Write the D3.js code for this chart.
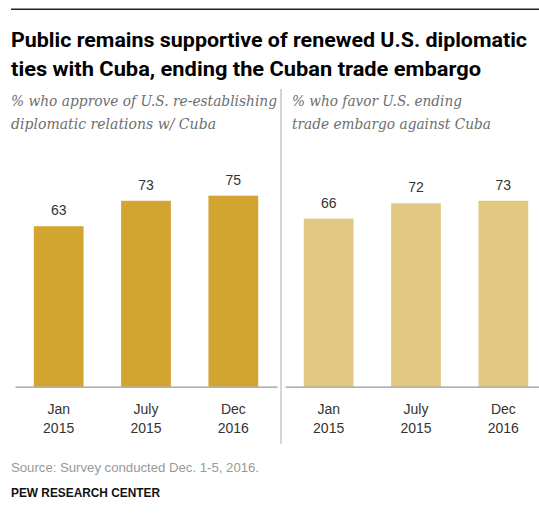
<!DOCTYPE html>
<html>
<head>
<meta charset="utf-8">
<script src="https://cdn.jsdelivr.net/npm/d3@7"></script>
<style>
  body { margin: 0; background: #fff; }
  svg { display: block; }
</style>
</head>
<body>
<div id="chart"></div>
<script>
// data
var periods = ["Jan 2015", "July 2015", "Dec 2016"];
var approveValues = [63, 73, 75];
var embargoValues = [66, 72, 73];
var panelTitles = [
  ["% who approve of U.S. re-establishing", "diplomatic relations w/ Cuba"],
  ["% who favor U.S. ending", "trade embargo against Cuba"]
];

var width = 539, height = 517;

var svg = d3.select("#chart")
  .append("svg")
    .attr("width", width)
    .attr("height", height);

// top rule
svg.append("rect")
  .attr("x", 11).attr("y", 8.5)
  .attr("width", width - 11).attr("height", 1.5)
  .attr("fill", "#222");

// title (condensed by squeezing a regular bold face)
var titleLines = [
  ["Public remains supportive of renewed U.S. diplomatic", 516],
  ["ties with Cuba, ending the Cuban trade embargo", 470]
];
titleLines.forEach(function(t, i) {
  svg.append("text")
    .attr("x", 11).attr("y", 47 + i * 29)
    .attr("textLength", t[1])
    .attr("lengthAdjust", "spacingAndGlyphs")
    .style("font", "bold 21px 'Liberation Sans Narrow', Roboto, sans-serif")
    .style("fill", "#000")
    .text(t[0]);
});

// divider between the two panels
svg.append("line")
  .attr("x1", 281).attr("x2", 281)
  .attr("y1", 89).attr("y2", 444)
  .attr("stroke", "#aaa").attr("stroke-width", 1);

var y = d3.scaleLinear()
  .domain([0, 100])
  .range([386.7, 132]);

var panels = [
  {values: approveValues, color: "#d1a530", left: 15, right: 277, titleX: 11,
   titleW: [266, 205], sub: panelTitles[0]},
  {values: embargoValues, color: "#e2c982", left: 285, right: 547, titleX: 292,
   titleW: [170, 199], sub: panelTitles[1]}
];

panels.forEach(function(p) {
  var g = svg.append("g");

  // subtitle
  p.sub.forEach(function(s, i) {
    g.append("text")
      .attr("x", p.titleX).attr("y", 106 + i * 23)
      .attr("textLength", p.titleW[i])
      .attr("lengthAdjust", "spacingAndGlyphs")
      .style("font", "italic 15px 'DejaVu Serif', 'Liberation Serif', serif")
      .style("fill", "#6e6e6e")
      .text(s);
  });

  var x = d3.scaleBand()
    .domain(periods)
    .range([p.left, p.right])
    .paddingInner(0.43)
    .paddingOuter(0.215);

  var rows = periods.map(function(d, i) { return {period: d, value: p.values[i]}; });

  g.selectAll("rect")
    .data(rows)
    .enter().append("rect")
      .attr("x", function(d) { return x(d.period); })
      .attr("y", function(d) { return y(d.value); })
      .attr("width", x.bandwidth())
      .attr("height", function(d) { return y(0) - y(d.value); })
      .attr("fill", p.color);

  g.selectAll(".val")
    .data(rows)
    .enter().append("text")
      .attr("class", "val")
      .attr("x", function(d) { return x(d.period) + x.bandwidth() / 2; })
      .attr("y", function(d) { return y(d.value) - 11; })
      .attr("text-anchor", "middle")
      .style("font", "14px 'Liberation Sans', Arial, sans-serif")
      .style("fill", "#333")
      .text(function(d) { return d.value; });

  // x axis: baseline plus two-line labels
  var axis = g.append("g")
    .attr("transform", "translate(0," + y(0) + ")")
    .call(d3.axisBottom(x).tickSize(0).tickSizeOuter(0).tickFormat(""));
  axis.select(".domain").attr("stroke", "#999").attr("stroke-width", 1.3);

  axis.selectAll(".tick text").remove();
  axis.selectAll(".tick").each(function(d) {
    var parts = d.split(" ");
    var t = d3.select(this).append("text")
      .attr("text-anchor", "middle")
      .style("font", "14px 'Liberation Sans', Arial, sans-serif")
      .style("fill", "#333");
    t.append("tspan").attr("x", 0).attr("y", 27).text(parts[0]);
    t.append("tspan").attr("x", 0).attr("y", 46).text(parts[1]);
  });
});

// footer
svg.append("text")
  .attr("x", 11).attr("y", 472)
  .attr("textLength", 248)
  .attr("lengthAdjust", "spacingAndGlyphs")
  .style("font", "13px 'Liberation Sans', Arial, sans-serif")
  .style("fill", "#999")
  .text("Source: Survey conducted Dec. 1-5, 2016.");

svg.append("text")
  .attr("x", 11).attr("y", 497)
  .attr("textLength", 149)
  .attr("lengthAdjust", "spacingAndGlyphs")
  .style("font", "bold 12px 'Liberation Sans Narrow', 'Liberation Sans', sans-serif")
  .style("fill", "#111")
  .text("PEW RESEARCH CENTER");
</script>
</body>
</html>
